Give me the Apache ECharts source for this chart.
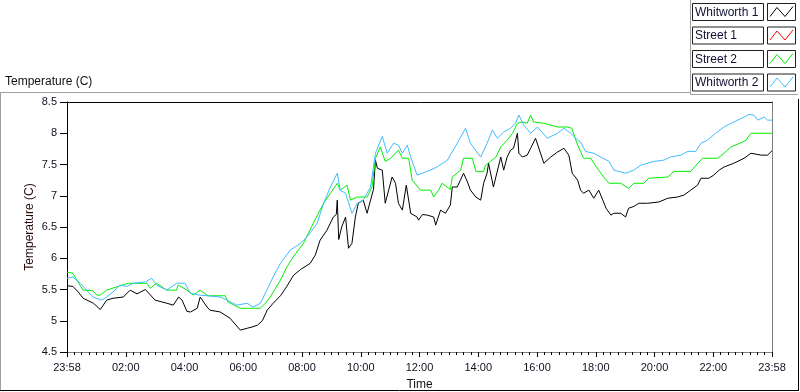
<!DOCTYPE html>
<html>
<head>
<meta charset="utf-8">
<style>html,body{margin:0;padding:0;background:#fff;}#c{width:800px;height:392px;}</style>
<script src="https://cdn.jsdelivr.net/npm/echarts@6/dist/echarts.min.js"></script>
</head>
<body>
<div id="c"></div>
<script>
// minutes after 23:58 (start of record) and temperature (C)
var seriesNames = ['Whitworth 1', 'Street 1', 'Street 2', 'Whitworth 2'];
var seriesColors = ['#000000', '#ff0000', '#00f000', '#40bcff'];

var w1Time = [0,12,23,33,54,68,81,94,115,129,143,160,180,204,217,228,235,245,252,266,272,286,292,313,333,354,368,378,389,399,409,421,436,449,463,477,497,507,517,531,544,550,552,555,561,569,575,582,589,595,605,613,620,626,630,634,644,650,657,664,671,677,685,693,702,715,718,726,736,749,753,763,773,783,787,797,810,818,824,835,845,851,858,861,871,886,892,899,906,912,920,923,930,940,947,957,963,974,988,1002,1015,1025,1032,1043,1049,1055,1066,1076,1086,1096,1101,1111,1117,1131,1141,1147,1158,1168,1186,1209,1227,1247,1260,1274,1288,1295,1311,1321,1332,1342,1362,1383,1397,1418,1431,1440];
var w1Temp = [5.56,5.55,5.46,5.36,5.28,5.18,5.33,5.36,5.38,5.49,5.43,5.5,5.33,5.28,5.25,5.38,5.33,5.15,5.14,5.2,5.38,5.22,5.17,5.14,5.04,4.85,4.88,4.9,4.93,5.0,5.17,5.28,5.4,5.55,5.73,5.82,5.92,6.05,6.29,6.45,6.66,6.7,6.93,6.3,6.5,6.66,6.16,6.24,6.66,6.88,6.93,6.72,6.93,7.1,7.57,7.44,7.41,6.88,7.09,7.3,7.2,6.88,6.77,7.17,6.72,6.66,6.61,6.7,6.69,6.66,6.53,6.77,6.72,6.85,7.14,7.14,7.36,7.22,7.09,6.98,6.93,7.2,7.36,7.52,7.14,7.62,7.41,7.62,7.73,7.76,8.0,7.68,7.62,7.65,7.76,7.92,7.78,7.52,7.62,7.7,7.76,7.65,7.36,7.25,7.09,7.04,7.09,6.96,7.09,6.9,6.8,6.69,6.72,6.72,6.66,6.8,6.83,6.88,6.88,6.9,6.96,6.98,7.01,7.09,7.17,7.28,7.28,7.33,7.41,7.46,7.52,7.6,7.68,7.65,7.65,7.72];

var s1Time = [];
var s1Temp = [];

var s2Time = [0,12,20,33,53,61,68,81,125,163,170,183,204,224,227,245,258,272,288,323,329,354,395,405,415,436,449,462,483,503,524,538,552,558,572,579,593,613,623,630,640,650,661,671,677,685,698,705,722,743,749,759,766,783,787,804,810,828,835,851,855,865,876,886,899,910,920,930,940,947,953,974,1002,1022,1031,1043,1049,1055,1070,1076,1086,1096,1107,1131,1147,1158,1178,1188,1227,1240,1274,1284,1298,1329,1342,1356,1380,1387,1397,1440];
var s2Temp = [5.78,5.76,5.65,5.49,5.48,5.41,5.41,5.49,5.6,5.6,5.52,5.6,5.49,5.49,5.57,5.49,5.41,5.49,5.4,5.4,5.3,5.2,5.2,5.28,5.38,5.65,5.86,6.02,6.24,6.56,6.88,7.04,7.2,7.09,7.17,6.93,6.98,6.98,7.14,7.6,7.78,7.55,7.6,7.68,7.73,7.6,7.6,7.25,7.09,7.09,6.98,7.09,7.2,7.1,7.3,7.41,7.6,7.6,7.39,7.39,7.49,7.55,7.62,7.78,7.89,8.0,8.16,8.18,8.16,8.29,8.18,8.16,8.1,8.1,8.08,7.81,7.71,7.6,7.6,7.52,7.41,7.3,7.2,7.2,7.12,7.2,7.2,7.28,7.3,7.39,7.39,7.48,7.6,7.6,7.68,7.78,7.86,7.89,8.0,8.0];

var w2Time = [0,12,27,40,53,71,81,94,108,122,135,160,173,183,204,224,241,252,272,313,327,347,368,380,395,408,421,436,456,477,490,511,524,538,552,558,569,582,585,593,605,620,630,644,654,667,677,685,695,702,715,736,756,777,797,814,824,845,858,869,879,892,906,916,923,933,947,961,981,1002,1015,1029,1043,1049,1059,1076,1090,1107,1117,1141,1158,1172,1199,1219,1233,1254,1268,1284,1295,1308,1325,1342,1362,1383,1393,1403,1411,1424,1431,1440];
var w2Temp = [5.68,5.7,5.6,5.49,5.38,5.33,5.38,5.46,5.57,5.55,5.6,5.62,5.68,5.57,5.49,5.6,5.6,5.44,5.41,5.38,5.33,5.25,5.28,5.22,5.28,5.49,5.7,5.92,6.13,6.24,6.34,6.56,6.88,7.14,7.36,7.09,7.04,6.72,6.69,6.88,6.93,7.14,7.68,7.95,7.68,7.84,7.81,7.68,7.81,7.62,7.33,7.39,7.46,7.57,7.84,8.08,7.84,7.62,7.84,8.05,7.92,8.02,8.08,8.16,8.29,8.13,8.0,8.1,7.92,8.0,8.08,8.0,7.89,7.86,7.71,7.68,7.62,7.55,7.41,7.36,7.41,7.49,7.55,7.57,7.62,7.65,7.71,7.71,7.84,7.89,8.0,8.1,8.18,8.26,8.3,8.29,8.21,8.26,8.21,8.21];

var xTickStep = 120; // major ticks every 2 h from 23:58
var yTicks = [4.5, 5, 5.5, 6, 6.5, 7, 7.5, 8, 8.5];

function zip(t, v) { var o = []; for (var i = 0; i < t.length; i++) o.push([t[i], v[i]]); return o; }
var allTimes = [w1Time, s1Time, s2Time, w2Time];
var allTemps = [w1Temp, s1Temp, s2Temp, w2Temp];

var FONT = 'Liberation Sans';
var chart = echarts.init(document.getElementById('c'), null, {renderer: 'canvas'});

var graphics = [];
function line(x1, y1, x2, y2, c) {
  graphics.push({type: 'line', silent: true, shape: {x1: x1, y1: y1, x2: x2, y2: y2}, style: {stroke: c, lineWidth: 1}});
}
line(0.5, 93, 0.5, 391, '#a0a0a0');
line(0, 92.5, 690, 92.5, '#a0a0a0');
line(690.5, 0, 690.5, 95, '#a0a0a0');
line(690, 94.5, 798, 94.5, '#a0a0a0');
line(798.5, 99, 798.5, 391, '#000');
line(0, 390.5, 799, 390.5, '#000');

graphics.push({type: 'text', left: 5, top: 76, style: {text: 'Temperature (C)', font: '12px "' + FONT + '"', fill: '#111'}});

for (var i = 0; i < seriesNames.length; i++) {
  var y0 = 3.5 + i * 23.5;
  graphics.push({type: 'rect', shape: {x: 692.5, y: y0, width: 71, height: 17}, style: {fill: '#fff', stroke: '#202020', lineWidth: 1}});
  graphics.push({type: 'text', x: 695, y: y0 + 9, style: {text: seriesNames[i], font: '12px "' + FONT + '"', fill: '#101030', verticalAlign: 'middle'}});
  graphics.push({type: 'rect', shape: {x: 767.5, y: y0, width: 28, height: 17}, style: {fill: '#fff', stroke: '#202020', lineWidth: 1}});
  graphics.push({type: 'polyline', shape: {points: [[770, y0 + 13], [777, y0 + 4], [785, y0 + 13], [793, y0 + 3]]}, style: {stroke: seriesColors[i], lineWidth: 1, fill: null}});
}

var series = [];
for (var k = 0; k < seriesNames.length; k++) {
  series.push({
    name: seriesNames[k], type: 'line', xAxisIndex: 0, yAxisIndex: 0,
    data: zip(allTimes[k], allTemps[k]), showSymbol: false, symbol: 'none',
    lineStyle: {width: 1, color: seriesColors[k]}, itemStyle: {color: seriesColors[k]},
    clip: true, silent: true
  });
}

chart.setOption({
  animation: false,
  backgroundColor: '#fff',
  textStyle: {fontFamily: FONT},
  grid: {left: 67, top: 102, right: 28, bottom: 40, containLabel: false, outerBoundsMode: 'none'},
  xAxis: [{
    type: 'value', min: 0, max: 1440, interval: xTickStep,
    axisLine: {show: true, lineStyle: {color: '#808080', width: 1}},
    axisTick: {show: true, length: 5, lineStyle: {color: '#000'}},
    minorTick: {show: true, splitNumber: 8, length: 3, lineStyle: {color: '#000'}},
    splitLine: {show: false},
    axisLabel: {
      fontSize: 11, color: '#101020', margin: 10, fontFamily: FONT,
      showMinLabel: true, showMaxLabel: true,
      formatter: function (v) {
        if (v === 0 || v === 1440) return '23:58';
        var h = Math.round((v + 2) / 60);
        return (h < 10 ? '0' : '') + h + ':00';
      }
    },
    name: 'Time', nameLocation: 'middle', nameGap: 27,
    nameTextStyle: {fontSize: 12, color: '#111', fontFamily: FONT}
  }, {
    type: 'value', min: 0, max: 1440, position: 'top',
    axisLine: {show: true, onZero: false, lineStyle: {color: '#000'}},
    axisTick: {show: false}, axisLabel: {show: false}, splitLine: {show: false}
  }],
  yAxis: [{
    type: 'value', min: 4.5, max: 8.5, interval: 0.5,
    axisLine: {show: true, lineStyle: {color: '#000'}},
    axisTick: {show: true, length: 7, lineStyle: {color: '#000'}},
    splitLine: {show: false},
    axisLabel: {fontSize: 11, color: '#101020', margin: 10, fontFamily: FONT},
    name: 'Temperature (C)', nameLocation: 'middle', nameGap: 31, nameRotate: 90, nameMoveOverlap: false,
    nameTextStyle: {fontSize: 12, color: '#2a0808', fontFamily: FONT}
  }, {
    type: 'value', min: 4.5, max: 8.5, position: 'right',
    axisLine: {show: true, onZero: false, lineStyle: {color: '#808080'}},
    axisTick: {show: false}, axisLabel: {show: false}, splitLine: {show: false}
  }],
  graphic: graphics,
  series: series
});
</script>
</body>
</html>
